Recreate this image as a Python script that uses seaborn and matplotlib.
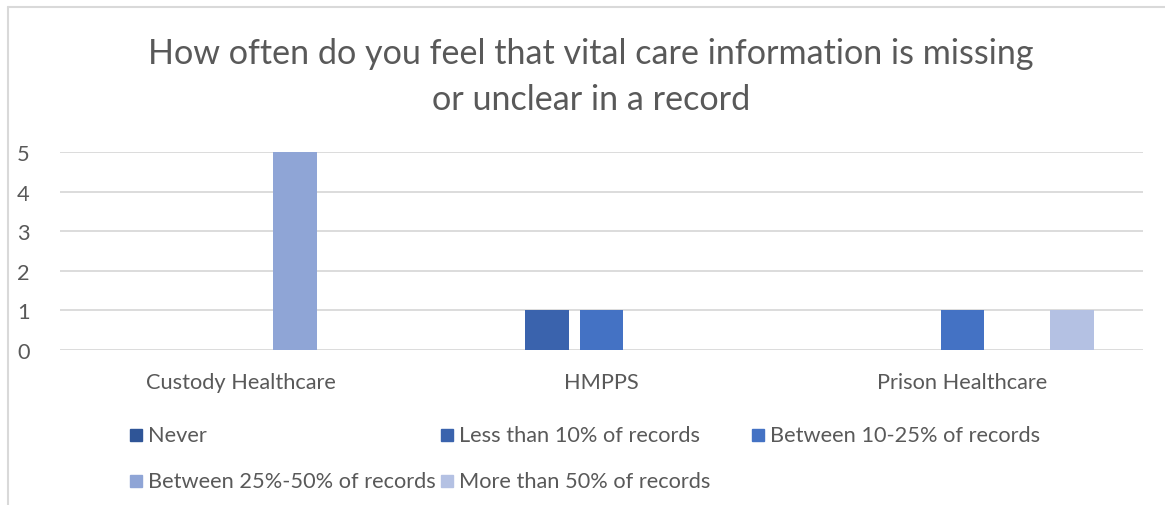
import pandas as pd
import seaborn as sns
import matplotlib.pyplot as plt
from matplotlib.patches import Rectangle
from matplotlib.lines import Line2D

# Chart values
categories = ["Custody Healthcare", "HMPPS", "Prison Healthcare"]
series = ["Never", "Less than 10% of records", "Between 10-25% of records",
          "Between 25%-50% of records", "More than 50% of records"]
never = [0, 0, 0]
less_10 = [0, 1, 0]
between_10_25 = [0, 1, 1]
between_25_50 = [5, 0, 0]
more_50 = [0, 0, 1]
y_ticks = [0, 1, 2, 3, 4, 5]

colors = ["#2F5597", "#3A63AD", "#4472C4", "#8FA5D6", "#B4C1E3"]

rows = []
for name, vals in zip(series, [never, less_10, between_10_25, between_25_50, more_50]):
    for cat, v in zip(categories, vals):
        rows.append({"category": cat, "response": name, "count": v})
df = pd.DataFrame(rows)

sns.set_style("white")
plt.rcParams['font.family'] = ['Lato', 'DejaVu Sans']
text_col = "#595959"

fig = plt.figure(figsize=(11.65, 5.06), dpi=100)
ax = fig.add_axes([60 / 1165, 1 - 351 / 506, (1143 - 60) / 1165, (351 - 153) / 506])

sns.barplot(data=df, x="category", y="count", hue="response", hue_order=series,
            palette=colors, saturation=1, width=0.76, gap=0.2, errorbar=None,
            linewidth=0, ax=ax, legend=False)

ax.set_xlim(-0.5, 2.5)
ax.set_ylim(0, 5)
ax.set_yticks(y_ticks)
ax.yaxis.grid(True, color="#D9D9D9", linewidth=1.3)
ax.set_axisbelow(True)
for s in ax.spines.values():
    s.set_visible(False)
ax.tick_params(axis="both", length=0, labelsize=15.7, labelcolor=text_col)
ax.tick_params(axis="y", pad=22)
ax.tick_params(axis="x", pad=16)
ax.set_xlabel("")
ax.set_ylabel("")

fig.text(0.507, 1 - 77 / 506, "How often do you feel that vital care information is missing\nor unclear in a record",
         ha="center", va="center", fontsize=24.6, color=text_col, linespacing=1.55)

# legend, laid out row by row like the original
col_x = [130, 441, 752]
row_y = [436, 482]
for i, (name, c) in enumerate(zip(series, colors)):
    r, k = divmod(i, 3)
    x0 = col_x[k] / 1165
    y0 = 1 - row_y[r] / 506
    fig.patches.append(Rectangle((x0, y0 - 6 / 506), 12 / 1165, 12 / 506,
                                 transform=fig.transFigure, color=c))
    fig.text(x0 + 18 / 1165, y0, name, ha="left", va="center",
             fontsize=15.7, color=text_col)

# outer chart border (top and left visible)
fig.add_artist(Line2D([8 / 1165, 1], [1 - 7.5 / 506, 1 - 7.5 / 506], color="#D9D9D9", lw=1.5))
fig.add_artist(Line2D([8 / 1165, 8 / 1165], [0, 1 - 7.5 / 506], color="#D9D9D9", lw=1.5))

fig.savefig("out.png", dpi=100, facecolor="white")
